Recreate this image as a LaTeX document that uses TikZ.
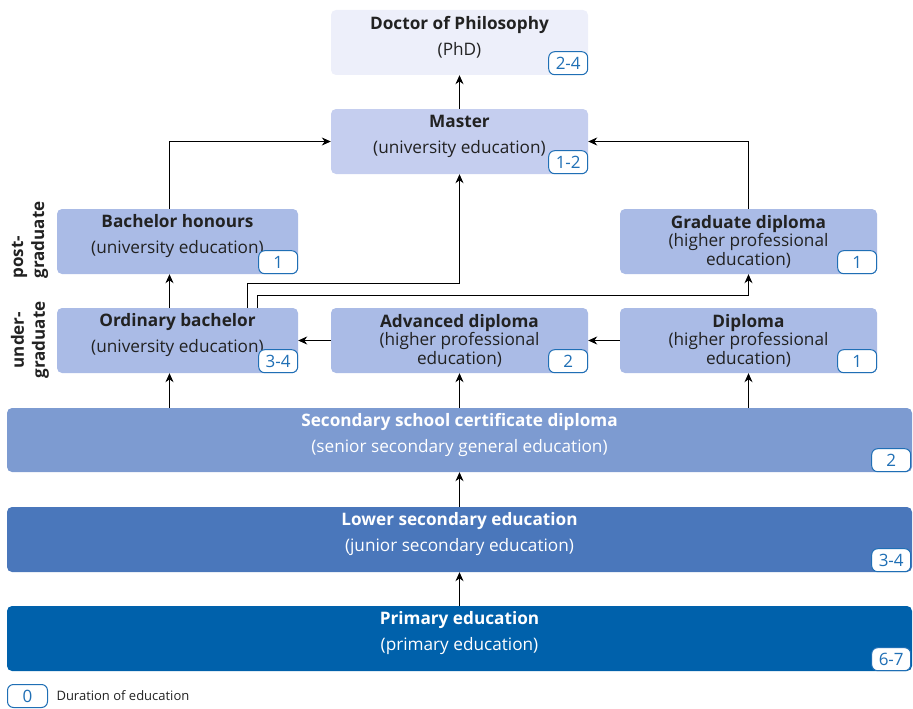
\documentclass[tikz,border=0pt]{standalone}
\usepackage{fontspec}
\setmainfont{Open Sans}
\usetikzlibrary{arrows.meta}

\definecolor{phdfill}{HTML}{EDEFFA}
\definecolor{mastfill}{HTML}{C5CEEF}
\definecolor{midfill}{HTML}{AABBE6}
\definecolor{secfill}{HTML}{7D9BD1}
\definecolor{lowfill}{HTML}{4A77BB}
\definecolor{primfill}{HTML}{0061AB}
\definecolor{durblue}{HTML}{1F6FB5}
\definecolor{txtgray}{HTML}{222222}

\tikzset{
  box/.style={rounded corners=5pt, inner sep=0pt, minimum height=65pt},
  twoline/.style={align=center, text=txtgray, font=\fontsize{17.2}{26}\selectfont},
  threeline/.style={align=center, text=txtgray, font=\fontsize{17.2}{18.5}\selectfont},
  bandtxt/.style={align=center, text=white, font=\fontsize{17.2}{26}\selectfont},
  dur/.style={draw=durblue, line width=1pt, fill=white, rounded corners=6pt,
    minimum width=39pt, minimum height=23pt, inner sep=0pt, text=durblue,
    font=\fontsize{17}{17}\selectfont},
  arr/.style={line width=0.8pt, -{Stealth[length=9pt,width=8pt]}},
  side/.style={rotate=90, font=\bfseries\fontsize{17}{21}\selectfont, text=txtgray}
}

\begin{document}
\begin{tikzpicture}[x=1pt,y=-1pt]
	\useasboundingbox (0,0) rectangle (913,709);

	% boxes
	\node[box, minimum width=257pt, fill=phdfill] (phd) at (459.5,42.5) {};
	\node[box, minimum width=257pt, fill=mastfill] (master) at (459.5,141.5) {};
	\node[box, minimum width=241pt, fill=midfill] (bhon) at (177.5,241.5) {};
	\node[box, minimum width=257pt, fill=midfill] (grad) at (748.5,241.5) {};
	\node[box, minimum width=241pt, fill=midfill] (obach) at (177.5,340.5) {};
	\node[box, minimum width=257pt, fill=midfill] (adip) at (459.5,340.5) {};
	\node[box, minimum width=257pt, fill=midfill] (dip) at (748.5,340.5) {};
	\node[box, minimum width=905pt, minimum height=64pt, fill=secfill] (sec) at (459.5,440) {};
	\node[box, minimum width=905pt, fill=lowfill] (low) at (459.5,539.5) {};
	\node[box, minimum width=905pt, fill=primfill] (prim) at (459.5,638.5) {};

	% texts
	\node[twoline] (phdtxt) at ([yshift=5.5pt]phd.center) {\textbf{Doctor of Philosophy}\\(PhD)};
	\node[twoline] (mastertxt) at ([yshift=5.5pt]master.center) {\textbf{Master}\\(university education)};
	\node[twoline] (bhontxt) at ([yshift=5.5pt]bhon.center) {\textbf{Bachelor honours}\\(university education)};
	\node[threeline] (gradtxt) at (grad.center) {\textbf{Graduate diploma}\\(higher professional\\education)};
	\node[twoline] (obachtxt) at ([yshift=5.5pt]obach.center) {\textbf{Ordinary bachelor}\\(university education)};
	\node[threeline] (adiptxt) at (adip.center) {\textbf{Advanced diploma}\\(higher professional\\education)};
	\node[threeline] (diptxt) at (dip.center) {\textbf{Diploma}\\(higher professional\\education)};
	\node[bandtxt] (sectxt) at ([yshift=5pt]sec.center) {\textbf{Secondary school certificate diploma}\\(senior secondary general education)};
	\node[bandtxt] (lowtxt) at ([yshift=5pt]low.center) {\textbf{Lower secondary education}\\(junior secondary education)};
	\node[bandtxt] (primtxt) at ([yshift=5pt]prim.center) {\textbf{Primary education}\\(primary education)};

	% durations
	\node[dur, anchor=south east] (phddur) at (phd.south east) {2-4};
	\node[dur, anchor=south east] (masterdur) at (master.south east) {1-2};
	\node[dur, anchor=south east] (bhondur) at (bhon.south east) {1};
	\node[dur, anchor=south east] (graddur) at (grad.south east) {1};
	\node[dur, anchor=south east] (obachdur) at (obach.south east) {3-4};
	\node[dur, anchor=south east] (adipdur) at (adip.south east) {2};
	\node[dur, anchor=south east] (dipdur) at (dip.south east) {1};
	\node[dur, anchor=south east] (secdur) at ([xshift=-1pt]sec.south east) {2};
	\node[dur, anchor=south east] (lowdur) at ([xshift=-1pt]low.south east) {3-4};
	\node[dur, anchor=south east] (primdur) at ([xshift=-1pt]prim.south east) {6-7};

	% side labels
	\node[side, align=left] (postlbl) at (30,240) {post-\\graduate};
	\node[side, align=center] (underlbl) at (30,340) {under-\\graduate};

	% legend
	\node[dur, minimum width=40pt, anchor=north west] (legdur) at (7,684) {0};
	\node[anchor=west, text=txtgray, font=\fontsize{13}{13}\selectfont] (legtxt) at (53,696) {Duration of education};

	% connectors
	\draw[arr] (master) -- (phd);
	\draw[arr] ([xshift=-8pt]bhon.north) |- (master.west);
	\draw[arr] (grad.north) |- (master.east);
	\draw[arr] ([xshift=-8pt]obach.north) -- ([xshift=-8pt]bhon.south);
	\draw[arr] ([xshift=70pt]obach.north) |- (master.south |- 0,283) -- (master.south);
	\draw[arr] ([xshift=80pt]obach.north) |- (grad.south |- 0,295) -- (grad.south);
	\draw[arr] (adip) -- (obach);
	\draw[arr] (dip) -- (adip);
	\draw[arr] (sec.north -| 169.5,0) -- ([xshift=-8pt]obach.south);
	\draw[arr] (sec.north -| adip.south) -- (adip.south);
	\draw[arr] (sec.north -| dip.south) -- (dip.south);
	\draw[arr] (low) -- (sec);
	\draw[arr] (prim) -- (low);
\end{tikzpicture}
\end{document}
